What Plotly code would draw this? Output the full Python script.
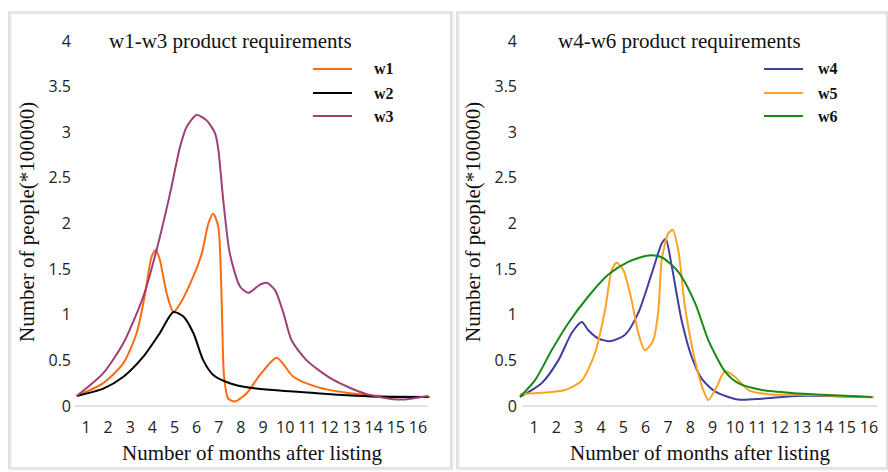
import plotly.graph_objects as go

# ---------------- data (x in months, y in 100000 people) ----------------
month_ticks = list(range(1, 17))
y_ticks = [0, 0.5, 1, 1.5, 2, 2.5, 3, 3.5, 4]
y_tick_text = ["0", "0.5", "1", "1.5", "2", "2.5", "3", "3.5", "4"]

w1_x = [0.58, 1.78, 2.69, 3.29, 3.67, 3.97, 4.16, 4.34, 4.65, 4.95, 5.25, 5.85, 6.23, 6.53, 6.75, 6.98, 7.13, 7.24, 7.43, 7.73, 8.26, 8.86, 9.62, 10.37, 11.42, 12.93, 14.43, 16.54]
w1_y = [0.11, 0.25, 0.47, 0.80, 1.23, 1.64, 1.71, 1.60, 1.23, 1.03, 1.12, 1.42, 1.67, 2.00, 2.11, 1.96, 1.16, 0.32, 0.08, 0.05, 0.14, 0.34, 0.53, 0.32, 0.21, 0.14, 0.11, 0.10]

w2_x = [0.58, 1.78, 2.69, 3.59, 4.34, 4.95, 5.40, 5.85, 6.30, 6.75, 7.50, 8.41, 11.42, 14.43, 16.47]
w2_y = [0.11, 0.19, 0.32, 0.54, 0.80, 1.03, 0.98, 0.80, 0.50, 0.34, 0.25, 0.20, 0.14, 0.10, 0.10]

w3_x = [0.58, 1.78, 2.69, 3.59, 4.19, 4.80, 5.25, 5.55, 6.00, 6.45, 6.83, 6.98, 7.20, 7.50, 7.96, 8.33, 8.86, 9.17, 9.54, 9.92, 10.29, 10.97, 12.18, 13.68, 15.19, 16.47]
w3_y = [0.11, 0.36, 0.69, 1.20, 1.71, 2.33, 2.84, 3.06, 3.19, 3.13, 2.99, 2.81, 2.26, 1.67, 1.31, 1.24, 1.33, 1.35, 1.27, 1.02, 0.72, 0.50, 0.285, 0.13, 0.07, 0.11]

w4_x = [0.37, 1.34, 2.09, 2.69, 3.14, 3.43, 3.88, 4.40, 5.08, 5.67, 6.27, 6.72, 6.90, 7.17, 7.61, 8.06, 8.51, 9.10, 10.15, 11.20, 12.69, 14.18, 16.20]
w4_y = [0.10, 0.25, 0.50, 0.80, 0.92, 0.83, 0.74, 0.71, 0.78, 1.02, 1.45, 1.78, 1.83, 1.53, 0.94, 0.54, 0.30, 0.16, 0.07, 0.08, 0.11, 0.11, 0.095]

w5_x = [0.37, 1.64, 2.39, 3.14, 3.73, 4.18, 4.48, 4.70, 5.00, 5.37, 5.67, 5.97, 6.34, 6.57, 6.72, 7.01, 7.21, 7.46, 7.76, 8.21, 8.58, 8.81, 9.18, 9.55, 10.00, 10.60, 11.49, 13.44, 16.20]
w5_y = [0.13, 0.15, 0.175, 0.28, 0.58, 1.05, 1.49, 1.57, 1.49, 1.16, 0.80, 0.61, 0.72, 1.05, 1.60, 1.89, 1.93, 1.71, 1.09, 0.50, 0.175, 0.065, 0.21, 0.38, 0.32, 0.175, 0.13, 0.12, 0.095]

w6_x = [0.37, 1.04, 1.79, 2.54, 3.43, 4.33, 5.22, 6.12, 6.72, 7.46, 8.21, 8.81, 9.55, 10.15, 11.20, 12.69, 14.18, 16.12]
w6_y = [0.10, 0.28, 0.61, 0.91, 1.20, 1.44, 1.58, 1.65, 1.63, 1.47, 1.13, 0.72, 0.38, 0.25, 0.175, 0.14, 0.12, 0.10]

COLORS = {"w1": "#FF6A10", "w2": "#000000", "w3": "#9E3F78",
          "w4": "#3F3FA0", "w5": "#FFA224", "w6": "#168A16"}

W, H = 888, 472
def px(x):
    return x / W
def py(y):
    return 1 - y / H

fig = go.Figure()

def add(name, xs, ys, xa, ya):
    fig.add_trace(go.Scatter(x=xs, y=ys, mode="lines", name=name, showlegend=False,
                             line=dict(color=COLORS[name], width=2, shape="spline", smoothing=0.7),
                             xaxis=xa, yaxis=ya))

add("w1", w1_x, w1_y, "x", "y")
add("w2", w2_x, w2_y, "x", "y")
add("w3", w3_x, w3_y, "x", "y")
add("w4", w4_x, w4_y, "x2", "y2")
add("w5", w5_x, w5_y, "x2", "y2")
add("w6", w6_x, w6_y, "x2", "y2")

tickfont = dict(family="Open Sans", size=16, color="#222222")
serif = "Liberation Serif"

la, lb = 72, 440
ra, rb = 518, 884
ytop, ybot = 30, 416
yr = [(406 - ybot) / 91.25, (406 - ytop) / 91.25]

common_x = dict(tickmode="array", tickvals=month_ticks, ticktext=[str(m) for m in month_ticks],
                showgrid=False, zeroline=False, showline=False, ticks="", tickfont=tickfont,
                fixedrange=True)
common_y = dict(tickmode="array", tickvals=y_ticks, ticktext=y_tick_text, range=yr,
                showgrid=False, zeroline=False, showline=False, ticks="", tickfont=tickfont,
                domain=[py(ybot), py(ytop)], fixedrange=True)

fig.update_layout(
    width=W, height=H, margin=dict(l=0, r=0, t=0, b=0),
    paper_bgcolor="white", plot_bgcolor="rgba(0,0,0,0)",
    xaxis=dict(common_x, domain=[px(la), px(lb)],
               range=[1 + (la - 86) / 22.13, 1 + (lb - 86) / 22.13], anchor="y"),
    yaxis=dict(common_y, anchor="x"),
    xaxis2=dict(common_x, domain=[px(ra), px(rb)],
                range=[1 + (ra - 534) / 22.33, 1 + (rb - 534) / 22.33], anchor="y2"),
    yaxis2=dict(common_y, anchor="x2"),
    showlegend=False,
)

shapes = []
for (x0, x1) in [(9, 451), (457, 887)]:
    shapes.append(dict(type="rect", xref="paper", yref="paper",
                       x0=px(x0 + 1), x1=px(x1 + 1), y0=py(469), y1=py(13),
                       line=dict(color="#EBEBEB", width=3), layer="below"))
    shapes.append(dict(type="rect", xref="paper", yref="paper",
                       x0=px(x0), x1=px(x1), y0=py(468), y1=py(12),
                       line=dict(color="#D6D6D6", width=1.2), layer="below"))
shapes.append(dict(type="line", xref="paper", yref="y", x0=px(75), x1=px(428), y0=0, y1=0,
                   line=dict(color="#D9D9D9", width=1.6), layer="below"))
shapes.append(dict(type="line", xref="paper", yref="y2", x0=px(522), x1=px(877), y0=0, y1=0,
                   line=dict(color="#D9D9D9", width=1.6), layer="below"))

annotations = []
def text(x, y, s, size, xanchor="center", **kw):
    annotations.append(dict(xref="paper", yref="paper", x=px(x), y=py(y), text=s,
                            xanchor=xanchor, yanchor="middle",
                            showarrow=False, font=dict(family=serif, size=size, color="#111111"),
                            **kw))

text(230, 41, "w1-w3 product requirements", 21)
text(679, 41, "w4-w6 product requirements", 21)
text(252, 453, "Number of months after listing", 21)
text(700, 453, "Number of months after listing", 21)
text(27, 222, "Number of people(*100000)", 21, textangle=-90)
text(473, 222, "Number of people(*100000)", 21, textangle=-90)

legend_rows = [69, 93, 116]
for names, lx0, lx1, tx in [(["w1", "w2", "w3"], 313, 352, 372),
                            (["w4", "w5", "w6"], 764, 803, 816)]:
    for nm, yy in zip(names, legend_rows):
        shapes.append(dict(type="line", xref="paper", yref="paper",
                           x0=px(lx0), x1=px(lx1), y0=py(yy), y1=py(yy),
                           line=dict(color=COLORS[nm], width=2)))
        text(tx, yy, "<b>%s</b>" % nm, 16, xanchor="left")

fig.update_layout(shapes=shapes, annotations=annotations)
fig.write_html("out.html", config={"displayModeBar": False},
               post_script="document.body.style.margin='0';document.body.style.overflow='hidden';")
